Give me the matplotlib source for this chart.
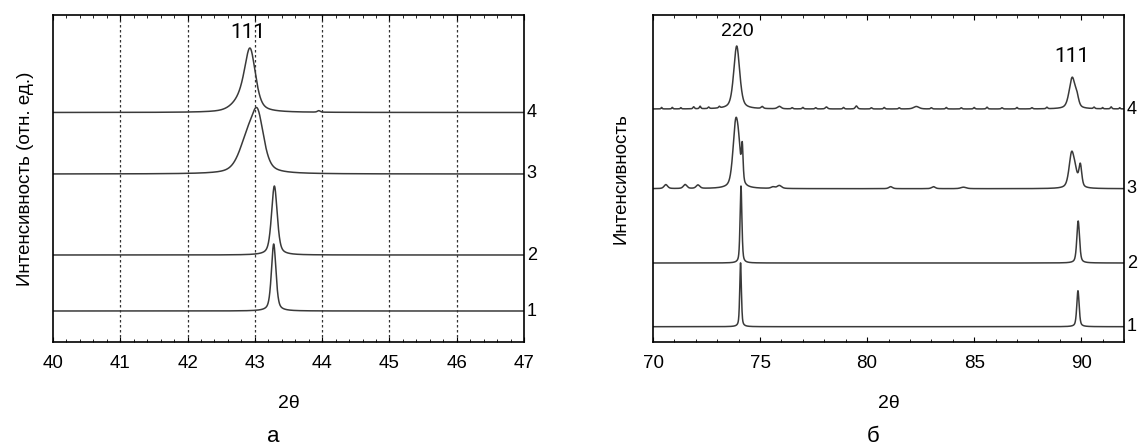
"""XRD patterns of four samples: (111) region and (220)/(111) region."""

import matplotlib.pyplot as plt
import numpy as np
from matplotlib.ticker import MultipleLocator

plt.rcParams["font.family"] = ["Liberation Sans", "DejaVu Sans"]

LINE_COLOR = "#3a3a3a"
PEAK_FONT = "Roboto"  # no 1-1 kerning, so "111" keeps its spacing

# curve numbers, bottom to top
curve_labels = ["1", "2", "3", "4"]

# panel a: 2theta 40..47, baseline offsets (arb. units) and peaks (pos, height, fwhm)
left_offsets = [31, 87, 168, 229.5]
left_peaks = [
    [(43.28, 67, 0.08)],
    [(43.29, 69, 0.10)],
    [(43.04, 53, 0.22), (42.88, 30, 0.28)],
    [(42.93, 58, 0.19), (42.80, 11, 0.30), (43.95, 1.5, 0.05)],
]

# panel b: 2theta 70..92
right_offsets = [15.3, 79, 153.3, 233]
right_peaks = [
    [(74.09, 64, 0.09), (89.85, 36, 0.13)],
    [(74.11, 77, 0.10), (89.86, 42, 0.15)],
    [(73.86, 62, 0.30), (74.00, 22, 0.22), (74.17, 34, 0.09),
     (89.55, 33, 0.28), (89.72, 12, 0.25), (89.96, 22, 0.16),
     (70.6, 4, 0.2), (71.5, 4, 0.2), (72.1, 3.5, 0.2), (75.6, 1.5, 0.2),
     (75.9, 3, 0.25), (81.1, 2, 0.2), (83.1, 2, 0.2), (84.5, 1.5, 0.3)],
    [(73.91, 63, 0.33), (89.58, 31, 0.33), (89.80, 8, 0.2),
     (70.4, 1.5, 0.06), (70.9, 1.5, 0.06), (71.3, 1.2, 0.06), (71.9, 2, 0.08),
     (72.2, 2.5, 0.08), (72.6, 1.5, 0.08), (73.1, 1.5, 0.08), (75.1, 2, 0.12),
     (75.9, 2.5, 0.2), (76.5, 1.2, 0.08), (77.0, 1.5, 0.08), (77.6, 1.2, 0.08),
     (78.1, 2, 0.12), (78.9, 1.5, 0.08), (79.5, 3, 0.12), (80.2, 1.2, 0.08),
     (80.8, 1.5, 0.08), (81.5, 1.2, 0.08), (82.3, 2.5, 0.3), (83.0, 1.2, 0.08),
     (83.7, 1.5, 0.08), (84.4, 1.2, 0.08), (85.0, 1.5, 0.08), (85.6, 1.8, 0.08),
     (86.3, 1.2, 0.08), (87.0, 1.5, 0.08), (87.7, 1.2, 0.08), (88.4, 1.5, 0.08),
     (90.6, 1.5, 0.08), (91.0, 1.2, 0.06), (91.4, 2, 0.08), (91.8, 1.2, 0.06)],
]


def pseudo_voigt(x, x0, h, fwhm, eta=0.5):
    u = (x - x0) / fwhm
    gauss = np.exp(-4 * np.log(2) * u ** 2)
    lorentz = 1.0 / (1.0 + 4 * u ** 2)
    return h * (eta * lorentz + (1 - eta) * gauss)


def pattern(x, offset, peaks):
    y = np.full_like(x, offset, dtype=float)
    for x0, h, w in peaks:
        y += pseudo_voigt(x, x0, h, w)
    return y


def draw_panel(ax, xlim, offsets, peaks, major, minor):
    x = np.linspace(xlim[0], xlim[1], 4000)
    for off, pk, lab in zip(offsets, peaks, curve_labels):
        ax.plot(x, pattern(x, off, pk), color=LINE_COLOR, linewidth=1.1)
        ax.text(1.006, off, lab, transform=ax.get_yaxis_transform(),
                ha="left", va="center", fontsize=13)
    ax.set_xlim(*xlim)
    ax.set_ylim(0, 327)
    ax.set_yticks([])
    ax.xaxis.set_major_locator(MultipleLocator(major))
    ax.xaxis.set_minor_locator(MultipleLocator(minor))
    ax.tick_params(axis="x", which="both", direction="in", top=True,
                   labelsize=13.5, pad=9)
    ax.tick_params(axis="x", which="major", length=3.5, width=0.8)
    ax.tick_params(axis="x", which="minor", length=2, width=0.6)
    for sp in ax.spines.values():
        sp.set_linewidth(1.2)
    ax.set_xlabel("2θ", fontsize=14, labelpad=17)


fig = plt.figure(figsize=(11.41, 4.46), dpi=100)
ax1 = fig.add_axes([53 / 1141, 104 / 446, 471 / 1141, 327 / 446])
ax2 = fig.add_axes([653 / 1141, 104 / 446, 471 / 1141, 327 / 446])

draw_panel(ax1, (40, 47), left_offsets, left_peaks, 1, 0.2)
for gx in range(41, 47):
    ax1.axvline(gx, color="#333333", linestyle=(0, (2, 2)), linewidth=0.9, zorder=0)
ax1.text(42.9, 310, "111", ha="center", va="center", fontsize=15,
         family=PEAK_FONT)
ax1.set_ylabel("Интенсивность (отн. ед.)", fontsize=13.5, labelpad=14)

draw_panel(ax2, (70, 92), right_offsets, right_peaks, 5, 1)
ax2.text(73.95, 310, "220", ha="center", va="center", fontsize=14)
ax2.text(89.55, 286, "111", ha="center", va="center", fontsize=15,
         family=PEAK_FONT)
ax2.set_ylabel("Интенсивность", fontsize=13.5, labelpad=17)

fig.text(273 / 1141, 1 - 437 / 446, "а", ha="center", va="center", fontsize=16)
fig.text(873 / 1141, 1 - 437 / 446, "б", ha="center", va="center", fontsize=16)

fig.savefig("out.png", dpi=100)
